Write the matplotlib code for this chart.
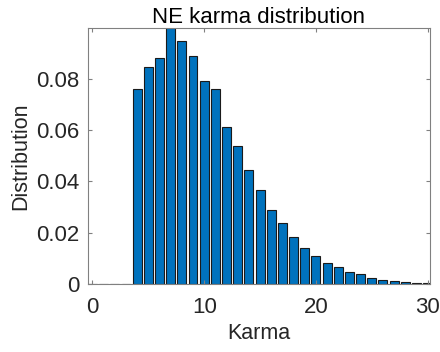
import numpy as np
import matplotlib.pyplot as plt

plt.rcParams['font.family'] = ['Liberation Sans', 'DejaVu Sans']

# karma values and their NE distribution
karma = list(range(0, 31))
dist = [0, 0, 0, 0, 0.0761, 0.0846, 0.0881, 0.0998, 0.0946, 0.0889,
        0.0791, 0.0760, 0.0613, 0.0537, 0.0444, 0.0367, 0.0287, 0.0238,
        0.0184, 0.0142, 0.0110, 0.0082, 0.0067, 0.0048, 0.0038, 0.0022,
        0.0017, 0.0013, 0.0009, 0.0006, 0.0004]

fig = plt.figure(figsize=(4.4, 3.52), dpi=100)
ax = fig.add_axes([0.2, 0.193, 0.777, 0.727])

ax.bar(karma, dist, width=0.8, color='#0072BD', edgecolor='#1a1a1a', linewidth=0.8)

ax.set_xlim(-0.4, 30.2)
ax.set_ylim(0, 0.0998)
ax.set_xticks([0, 10, 20, 30])
ax.set_yticks([0, 0.02, 0.04, 0.06, 0.08])
ax.set_yticklabels(['0', '0.02', '0.04', '0.06', '0.08'])

for s in ax.spines.values():
    s.set_color('#808080')
    s.set_linewidth(0.8)
ax.tick_params(direction='in', top=True, right=True, colors='#808080',
               labelcolor='#262626', labelsize=16, length=3)
ax.tick_params(axis='x', pad=9)
ax.tick_params(axis='y', pad=6)

ax.set_title('NE karma distribution', fontsize=16, color='black', pad=4)
ax.set_xlabel('Karma', fontsize=15.5, color='#262626', labelpad=4)
ax.set_ylabel('Distribution', fontsize=15.5, color='#262626', labelpad=4)

fig.savefig('out.png', dpi=100)
